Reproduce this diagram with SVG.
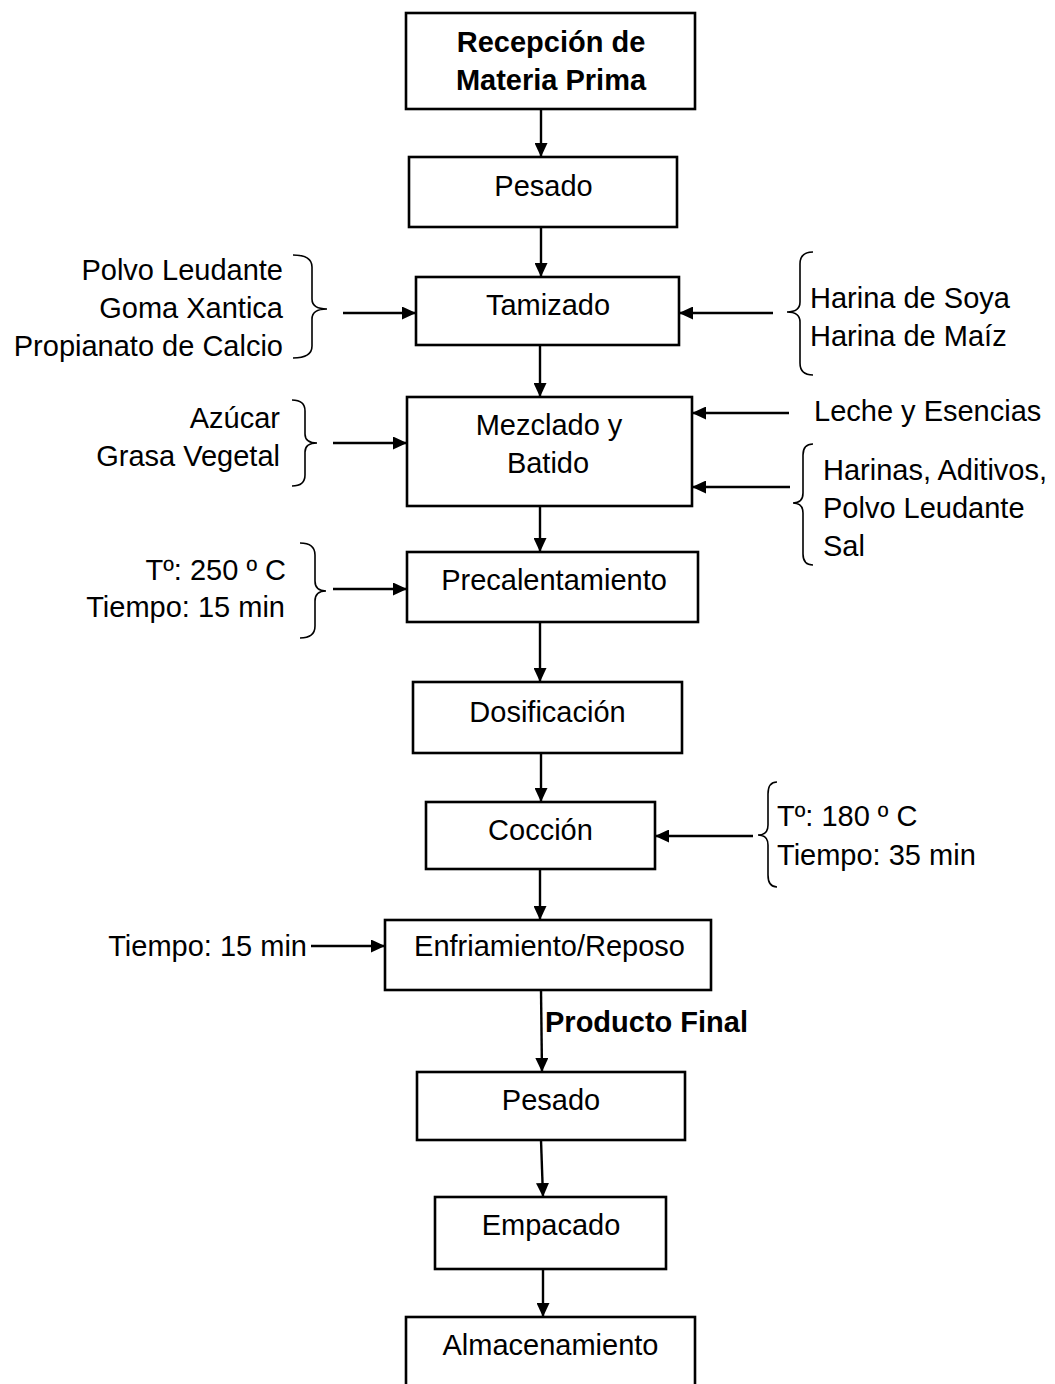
<svg xmlns="http://www.w3.org/2000/svg" width="1055" height="1384" viewBox="0 0 1055 1384">
<defs>
<marker id="ah" viewBox="0 0 14 13" refX="14" refY="6.5" markerWidth="14" markerHeight="13" markerUnits="userSpaceOnUse" orient="auto">
<path d="M0,0 L14,6.5 L0,13 Z" fill="#000"/>
</marker>
<style>
.box{fill:#fff;stroke:#000;stroke-width:2.6}
.t{font-family:"Liberation Sans",Arial,sans-serif;font-size:29px;fill:#000}
.b{font-weight:bold}
.m{text-anchor:middle}
.e{text-anchor:end}
.c{fill:none;stroke:#000;stroke-width:2.4}
.br{fill:none;stroke:#000;stroke-width:1.6}
</style>
</defs>
<rect width="1055" height="1384" fill="#fff"/>
<g id="connectors">
<line class="c" x1="541" y1="109" x2="541" y2="157" marker-end="url(#ah)"/>
<line class="c" x1="541" y1="227" x2="541" y2="277" marker-end="url(#ah)"/>
<line class="c" x1="540" y1="345" x2="540" y2="397" marker-end="url(#ah)"/>
<line class="c" x1="540" y1="506" x2="540" y2="552" marker-end="url(#ah)"/>
<line class="c" x1="540" y1="622" x2="540" y2="682" marker-end="url(#ah)"/>
<line class="c" x1="541" y1="753" x2="541" y2="802" marker-end="url(#ah)"/>
<line class="c" x1="540" y1="869" x2="540" y2="920" marker-end="url(#ah)"/>
<line class="c" x1="541" y1="990" x2="542" y2="1072" marker-end="url(#ah)"/>
<line class="c" x1="541" y1="1140" x2="543" y2="1197" marker-end="url(#ah)"/>
<line class="c" x1="543" y1="1269" x2="543" y2="1317" marker-end="url(#ah)"/>
<line class="c" x1="343" y1="313" x2="416" y2="313" marker-end="url(#ah)"/>
<line class="c" x1="773" y1="313" x2="679" y2="313" marker-end="url(#ah)"/>
<line class="c" x1="333" y1="443" x2="407" y2="443" marker-end="url(#ah)"/>
<line class="c" x1="789" y1="413" x2="692" y2="413" marker-end="url(#ah)"/>
<line class="c" x1="790" y1="487" x2="692" y2="487" marker-end="url(#ah)"/>
<line class="c" x1="333" y1="589" x2="407" y2="589" marker-end="url(#ah)"/>
<line class="c" x1="753" y1="836" x2="655" y2="836" marker-end="url(#ah)"/>
<line class="c" x1="311" y1="946" x2="385" y2="946" marker-end="url(#ah)"/>
</g>
<g id="n1"><rect class="box" x="406" y="13" width="289" height="96"/>
<text class="t b m" x="551" y="52">Recepción de</text><text class="t b m" x="551" y="90">Materia Prima</text></g>
<g id="n2"><rect class="box" x="409" y="157" width="268" height="70"/>
<text class="t m" x="543.5" y="196">Pesado</text></g>
<g id="n3"><rect class="box" x="416" y="277" width="263" height="68"/>
<text class="t m" x="548" y="315">Tamizado</text></g>
<g id="n4"><rect class="box" x="407" y="397" width="285" height="109"/>
<text class="t m" x="549" y="435">Mezclado y</text><text class="t m" x="548" y="473">Batido</text></g>
<g id="n5"><rect class="box" x="407" y="552" width="291" height="70"/>
<text class="t m" x="554" y="590">Precalentamiento</text></g>
<g id="n6"><rect class="box" x="413" y="682" width="269" height="71"/>
<text class="t m" x="547.5" y="722">Dosificación</text></g>
<g id="n7"><rect class="box" x="426" y="802" width="229" height="67"/>
<text class="t m" x="540.5" y="840">Cocción</text></g>
<g id="n8"><rect class="box" x="385" y="920" width="326" height="70"/>
<text class="t m" x="549.5" y="956">Enfriamiento/Reposo</text></g>
<g id="n9"><rect class="box" x="417" y="1072" width="268" height="68"/>
<text class="t m" x="551" y="1110">Pesado</text></g>
<g id="n10"><rect class="box" x="435" y="1197" width="231" height="72"/>
<text class="t m" x="551" y="1235">Empacado</text></g>
<g id="n11"><rect class="box" x="406" y="1317" width="289" height="80"/>
<text class="t m" x="550.5" y="1355">Almacenamiento</text></g>
<g id="in-tamizado-left">
<text class="t e" x="283" y="280">Polvo Leudante</text>
<text class="t e" x="283" y="318">Goma Xantica</text>
<text class="t e" x="283" y="356">Propianato de Calcio</text>
<path class="br" d="M293,255 Q312,255 312,267 L312,299 Q312,309 327,309 Q312,309 312,319 L312,346 Q312,358 293,358"/>
</g>
<g id="in-tamizado-right">
<path class="br" d="M813,252 Q800,252 800,264 L800,302 Q800,312 787,312 Q800,312 800,322 L800,363 Q800,375 813,375"/>
<text class="t" x="810" y="308">Harina de Soya</text>
<text class="t" x="810" y="346">Harina de Maíz</text>
</g>
<g id="in-mezclado-left">
<text class="t e" x="280" y="428">Azúcar</text>
<text class="t e" x="280" y="466">Grasa Vegetal</text>
<path class="br" d="M292,400 Q305,400 305,411 L305,434 Q305,443 317,443 Q305,443 305,452 L305,475 Q305,486 292,486"/>
</g>
<g id="in-mezclado-right">
<text class="t" x="814" y="421">Leche y Esencias</text>
<path class="br" d="M813,444 Q803,444 803,455 L803,493 Q803,503 793,503 Q803,503 803,513 L803,554 Q803,565 813,565"/>
<text class="t" x="823" y="480">Harinas, Aditivos,</text>
<text class="t" x="823" y="518">Polvo Leudante</text>
<text class="t" x="823" y="556">Sal</text>
</g>
<g id="in-precal">
<text class="t e" x="286" y="580">Tº: 250 º C</text>
<text class="t e" x="285" y="617">Tiempo: 15 min</text>
<path class="br" d="M300,543 Q315,543 315,555 L315,581 Q315,591 326,591 Q315,591 315,601 L315,626 Q315,638 300,638"/>
</g>
<g id="in-coccion">
<path class="br" d="M777,782 Q768,782 768,794 L768,825 Q768,835 758,835 Q768,835 768,845 L768,875 Q768,887 777,887"/>
<text class="t" x="777" y="826">Tº: 180 º C</text>
<text class="t" x="777" y="865">Tiempo: 35 min</text>
</g>
<g id="in-enfriamiento">
<text class="t e" x="307" y="956">Tiempo: 15 min</text>
</g>
<g id="label-producto">
<text class="t b" x="545" y="1032">Producto Final</text>
</g>
</svg>
